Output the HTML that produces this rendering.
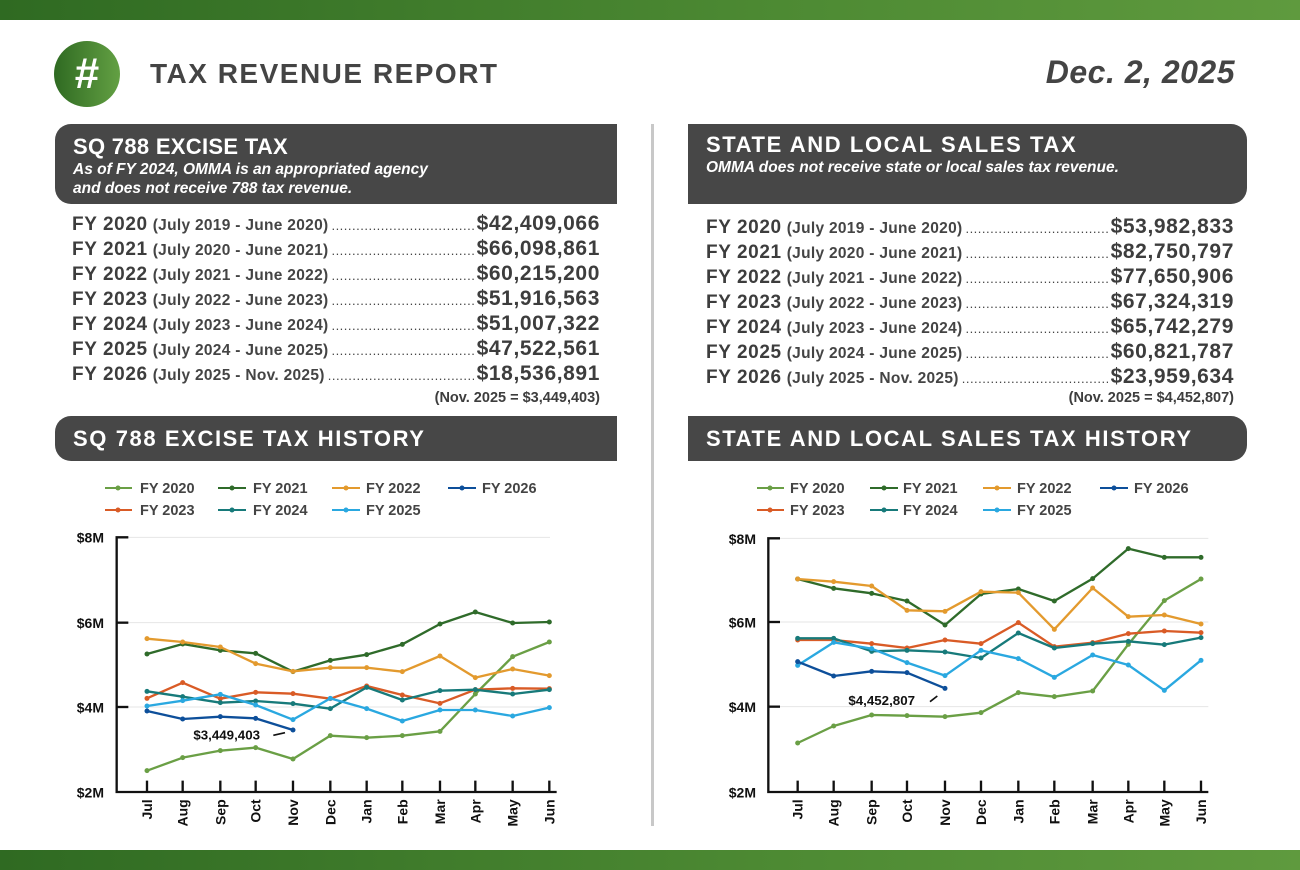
<!DOCTYPE html>
<html><head><meta charset="utf-8"><style>
*{margin:0;padding:0;box-sizing:border-box}
body{width:1300px;height:870px;background:#fff;position:relative;overflow:hidden;font-family:"Liberation Sans",sans-serif;color:#3d3d3d}
.bar{position:absolute;left:0;width:1300px;height:20px;background:linear-gradient(90deg,#2f6a22,#4d8a33 60%,#5f9a3e)}
.abs{position:absolute}
.box{position:absolute;background:#474747;color:#fff}
.box h2{font-size:22px;font-weight:bold;letter-spacing:0.3px}
.box h2.w{letter-spacing:1.6px}
.box p{font-size:15.5px;font-style:italic;font-weight:bold;line-height:19px}
.row{position:absolute;display:flex;align-items:baseline;white-space:nowrap;overflow:hidden}
.row b{font-size:19px;letter-spacing:0.6px}
.row .s{font-size:15.5px;font-weight:bold;margin-left:5px;color:#444;letter-spacing:0.3px}
.row .d{flex:1;overflow:hidden;font-size:13px;color:#444;margin:0 3px;letter-spacing:0.5px}
.row .a{font-size:21px;font-weight:bold;letter-spacing:0.6px}
.note{position:absolute;font-size:14.5px;font-weight:bold;text-align:right}
svg text{font-family:"Liberation Sans",sans-serif;font-weight:bold}
</style></head><body>
<div class="bar" style="top:0"></div>
<div class="bar" style="top:850px"></div>
<div class="abs" style="left:54px;top:41px;width:66px;height:66px;border-radius:50%;background:linear-gradient(90deg,#2f6a22,#63a043);color:#fff;font-size:44px;font-weight:bold;text-align:center;line-height:66px">#</div>
<div class="abs" style="left:150px;top:58px;font-size:28px;font-weight:bold;letter-spacing:1.5px;color:#444">TAX REVENUE REPORT</div>
<div class="abs" style="right:65px;top:54px;font-size:32px;font-weight:bold;font-style:italic;color:#444;letter-spacing:0.5px">Dec. 2, 2025</div>
<div class="abs" style="left:651px;top:124px;width:3px;height:702px;background:#c8c8c8"></div>

<div class="box" style="left:55px;top:124px;width:562px;height:80px;border-radius:16px 0 0 16px;padding:10px 0 0 18px"><h2>SQ 788 EXCISE TAX</h2><p>As of FY 2024, OMMA is an appropriated agency<br>and does not receive 788 tax revenue.</p></div>
<div class="box" style="left:688px;top:124px;width:559px;height:80px;border-radius:0 16px 16px 0;padding:8px 0 0 18px"><h2 class="w">STATE AND LOCAL SALES TAX</h2><p>OMMA does not receive state or local sales tax revenue.</p></div>

<div class="row" style="left:72px;top:212px;width:528px"><b>FY 2020</b><span class="s">(July 2019 - June 2020)</span><span class="d">..........................................................</span><span class="a">$42,409,066</span></div>
<div class="row" style="left:72px;top:237px;width:528px"><b>FY 2021</b><span class="s">(July 2020 - June 2021)</span><span class="d">..........................................................</span><span class="a">$66,098,861</span></div>
<div class="row" style="left:72px;top:262px;width:528px"><b>FY 2022</b><span class="s">(July 2021 - June 2022)</span><span class="d">..........................................................</span><span class="a">$60,215,200</span></div>
<div class="row" style="left:72px;top:287px;width:528px"><b>FY 2023</b><span class="s">(July 2022 - June 2023)</span><span class="d">..........................................................</span><span class="a">$51,916,563</span></div>
<div class="row" style="left:72px;top:312px;width:528px"><b>FY 2024</b><span class="s">(July 2023 - June 2024)</span><span class="d">..........................................................</span><span class="a">$51,007,322</span></div>
<div class="row" style="left:72px;top:337px;width:528px"><b>FY 2025</b><span class="s">(July 2024 - June 2025)</span><span class="d">..........................................................</span><span class="a">$47,522,561</span></div>
<div class="row" style="left:72px;top:362px;width:528px"><b>FY 2026</b><span class="s">(July 2025 - Nov. 2025)</span><span class="d">..........................................................</span><span class="a">$18,536,891</span></div>
<div class="note" style="left:300px;top:390px;width:300px">(Nov. 2025 = $3,449,403)</div>

<div class="row" style="left:706px;top:215px;width:528px"><b>FY 2020</b><span class="s">(July 2019 - June 2020)</span><span class="d">..........................................................</span><span class="a">$53,982,833</span></div>
<div class="row" style="left:706px;top:240px;width:528px"><b>FY 2021</b><span class="s">(July 2020 - June 2021)</span><span class="d">..........................................................</span><span class="a">$82,750,797</span></div>
<div class="row" style="left:706px;top:265px;width:528px"><b>FY 2022</b><span class="s">(July 2021 - June 2022)</span><span class="d">..........................................................</span><span class="a">$77,650,906</span></div>
<div class="row" style="left:706px;top:290px;width:528px"><b>FY 2023</b><span class="s">(July 2022 - June 2023)</span><span class="d">..........................................................</span><span class="a">$67,324,319</span></div>
<div class="row" style="left:706px;top:315px;width:528px"><b>FY 2024</b><span class="s">(July 2023 - June 2024)</span><span class="d">..........................................................</span><span class="a">$65,742,279</span></div>
<div class="row" style="left:706px;top:340px;width:528px"><b>FY 2025</b><span class="s">(July 2024 - June 2025)</span><span class="d">..........................................................</span><span class="a">$60,821,787</span></div>
<div class="row" style="left:706px;top:365px;width:528px"><b>FY 2026</b><span class="s">(July 2025 - Nov. 2025)</span><span class="d">..........................................................</span><span class="a">$23,959,634</span></div>
<div class="note" style="left:934px;top:390px;width:300px">(Nov. 2025 = $4,452,807)</div>

<div class="box" style="left:55px;top:416px;width:562px;height:45px;border-radius:16px 0 0 16px;padding:10px 0 0 18px"><h2 class="w">SQ 788 EXCISE TAX HISTORY</h2></div>
<div class="box" style="left:688px;top:416px;width:559px;height:45px;border-radius:0 16px 16px 0;padding:10px 0 0 18px"><h2 class="w">STATE AND LOCAL SALES TAX HISTORY</h2></div>

<svg class="abs" style="left:0;top:0" width="1300" height="870">
<defs>
<marker id="m1" markerUnits="userSpaceOnUse" markerWidth="20" markerHeight="20" refX="10" refY="10"><circle cx="10" cy="10" r="7.5" fill="#6a9f45"/></marker>
<marker id="m2" markerUnits="userSpaceOnUse" markerWidth="20" markerHeight="20" refX="10" refY="10"><circle cx="10" cy="10" r="7.5" fill="#2f6b2a"/></marker>
<marker id="m3" markerUnits="userSpaceOnUse" markerWidth="20" markerHeight="20" refX="10" refY="10"><circle cx="10" cy="10" r="7.5" fill="#e39a2e"/></marker>
<marker id="m4" markerUnits="userSpaceOnUse" markerWidth="20" markerHeight="20" refX="10" refY="10"><circle cx="10" cy="10" r="7.5" fill="#d95b26"/></marker>
<marker id="m5" markerUnits="userSpaceOnUse" markerWidth="20" markerHeight="20" refX="10" refY="10"><circle cx="10" cy="10" r="7.5" fill="#177a7a"/></marker>
<marker id="m6" markerUnits="userSpaceOnUse" markerWidth="20" markerHeight="20" refX="10" refY="10"><circle cx="10" cy="10" r="7.5" fill="#2aa8e0"/></marker>
<marker id="m7" markerUnits="userSpaceOnUse" markerWidth="20" markerHeight="20" refX="10" refY="10"><circle cx="10" cy="10" r="7.5" fill="#0d4f9a"/></marker>
</defs>
<g font-size="14.5" fill="#444">
<g stroke-width="2">
<line x1="105" y1="488" x2="132" y2="488" stroke="#6a9f45"/><circle cx="118" cy="488" r="2.5" fill="#6a9f45"/><text x="140" y="493">FY 2020</text>
<line x1="218" y1="488" x2="246" y2="488" stroke="#2f6b2a"/><circle cx="232" cy="488" r="2.5" fill="#2f6b2a"/><text x="253" y="493">FY 2021</text>
<line x1="332" y1="488" x2="360" y2="488" stroke="#e39a2e"/><circle cx="346" cy="488" r="2.5" fill="#e39a2e"/><text x="366" y="493">FY 2022</text>
<line x1="448" y1="488" x2="476" y2="488" stroke="#0d4f9a"/><circle cx="462" cy="488" r="2.5" fill="#0d4f9a"/><text x="482" y="493">FY 2026</text>
<line x1="105" y1="510" x2="132" y2="510" stroke="#d95b26"/><circle cx="118" cy="510" r="2.5" fill="#d95b26"/><text x="140" y="515">FY 2023</text>
<line x1="218" y1="510" x2="246" y2="510" stroke="#177a7a"/><circle cx="232" cy="510" r="2.5" fill="#177a7a"/><text x="253" y="515">FY 2024</text>
<line x1="332" y1="510" x2="360" y2="510" stroke="#2aa8e0"/><circle cx="346" cy="510" r="2.5" fill="#2aa8e0"/><text x="366" y="515">FY 2025</text>

<line x1="757" y1="488" x2="784" y2="488" stroke="#6a9f45"/><circle cx="770" cy="488" r="2.5" fill="#6a9f45"/><text x="790" y="493">FY 2020</text>
<line x1="870" y1="488" x2="898" y2="488" stroke="#2f6b2a"/><circle cx="884" cy="488" r="2.5" fill="#2f6b2a"/><text x="903" y="493">FY 2021</text>
<line x1="983" y1="488" x2="1011" y2="488" stroke="#e39a2e"/><circle cx="997" cy="488" r="2.5" fill="#e39a2e"/><text x="1017" y="493">FY 2022</text>
<line x1="1100" y1="488" x2="1128" y2="488" stroke="#0d4f9a"/><circle cx="1114" cy="488" r="2.5" fill="#0d4f9a"/><text x="1134" y="493">FY 2026</text>
<line x1="757" y1="510" x2="784" y2="510" stroke="#d95b26"/><circle cx="770" cy="510" r="2.5" fill="#d95b26"/><text x="790" y="515">FY 2023</text>
<line x1="870" y1="510" x2="898" y2="510" stroke="#177a7a"/><circle cx="884" cy="510" r="2.5" fill="#177a7a"/><text x="903" y="515">FY 2024</text>
<line x1="983" y1="510" x2="1011" y2="510" stroke="#2aa8e0"/><circle cx="997" cy="510" r="2.5" fill="#2aa8e0"/><text x="1017" y="515">FY 2025</text>
</g>
</g>

<g transform="translate(60,470) scale(0.33333)">
<g stroke="#e6e6e6" stroke-width="3"><line x1="170" y1="202" x2="1470" y2="202"/><line x1="170" y1="458" x2="1470" y2="458"/><line x1="170" y1="711" x2="1470" y2="711"/></g>
<g stroke="#111" stroke-width="7" fill="none">
<polyline points="205,202 170,202 170,966 1490,966"/>
<line x1="170" y1="458" x2="205" y2="458"/><line x1="170" y1="711" x2="205" y2="711"/>
<path d="M261 932V966M368 932V966M481 932V966M587 932V966M699 932V966M811 932V966M920 932V966M1027 932V966M1140 932V966M1246 932V966M1358 932V966M1468 932V966"/>
</g>
<g font-size="42" fill="#111" text-anchor="end"><text x="132" y="218">$8M</text><text x="132" y="474">$6M</text><text x="132" y="727">$4M</text><text x="132" y="982">$2M</text></g>
<g font-size="42" fill="#111" text-anchor="end">
<text transform="translate(276,988) rotate(-90)">Jul</text><text transform="translate(383,988) rotate(-90)">Aug</text><text transform="translate(496,988) rotate(-90)">Sep</text><text transform="translate(602,988) rotate(-90)">Oct</text><text transform="translate(714,988) rotate(-90)">Nov</text><text transform="translate(826,988) rotate(-90)">Dec</text><text transform="translate(935,988) rotate(-90)">Jan</text><text transform="translate(1042,988) rotate(-90)">Feb</text><text transform="translate(1155,988) rotate(-90)">Mar</text><text transform="translate(1261,988) rotate(-90)">Apr</text><text transform="translate(1373,988) rotate(-90)">May</text><text transform="translate(1483,988) rotate(-90)">Jun</text>
</g>
<g fill="none" stroke-width="7" stroke-linejoin="round">
<polyline stroke="#6a9f45" marker-start="url(#m1)" marker-mid="url(#m1)" marker-end="url(#m1)" points="261,902 368,863 481,842 587,833 699,867 811,797 920,803 1027,797 1140,784 1246,672 1358,560 1468,516"/>
<polyline stroke="#2f6b2a" marker-start="url(#m2)" marker-mid="url(#m2)" marker-end="url(#m2)" points="261,552 368,522 481,541 587,550 699,605 811,571 920,554 1027,523 1140,462 1246,426 1358,459 1468,456"/>
<polyline stroke="#e39a2e" marker-start="url(#m3)" marker-mid="url(#m3)" marker-end="url(#m3)" points="261,506 368,516 481,531 587,581 699,604 811,593 920,593 1027,605 1140,558 1246,623 1358,597 1468,617"/>
<polyline stroke="#d95b26" marker-start="url(#m4)" marker-mid="url(#m4)" marker-end="url(#m4)" points="261,685 368,638 481,686 587,667 699,671 811,686 920,648 1027,675 1140,700 1246,659 1358,655 1468,656"/>
<polyline stroke="#177a7a" marker-start="url(#m5)" marker-mid="url(#m5)" marker-end="url(#m5)" points="261,664 368,680 481,698 587,693 699,701 811,716 920,652 1027,690 1140,662 1246,659 1358,672 1468,659"/>
<polyline stroke="#2aa8e0" marker-start="url(#m6)" marker-mid="url(#m6)" marker-end="url(#m6)" points="261,708 368,692 481,673 587,705 699,749 811,685 920,716 1027,753 1140,720 1246,720 1358,738 1468,713"/>
<polyline stroke="#0d4f9a" marker-start="url(#m7)" marker-mid="url(#m7)" marker-end="url(#m7)" points="261,723 368,747 481,740 587,745 699,780"/>
</g>
<text x="400" y="808" font-size="40" fill="#111">$3,449,403</text>
<line x1="640" y1="796" x2="675" y2="788" stroke="#111" stroke-width="5"/>
</g>

<g transform="translate(700,470) scale(0.33333)">
<g stroke="#e6e6e6" stroke-width="3"><line x1="205" y1="205" x2="1525" y2="205"/><line x1="205" y1="456" x2="1525" y2="456"/><line x1="205" y1="710" x2="1525" y2="710"/></g>
<g stroke="#111" stroke-width="7" fill="none">
<polyline points="240,205 205,205 205,966 1525,966"/>
<line x1="205" y1="456" x2="240" y2="456"/><line x1="205" y1="710" x2="240" y2="710"/>
<path d="M293 932V966M401 932V966M515 932V966M621 932V966M735 932V966M843 932V966M955 932V966M1063 932V966M1178 932V966M1285 932V966M1393 932V966M1503 932V966"/>
</g>
<g font-size="42" fill="#111" text-anchor="end"><text x="168" y="222">$8M</text><text x="168" y="472">$6M</text><text x="168" y="726">$4M</text><text x="168" y="982">$2M</text></g>
<g font-size="42" fill="#111" text-anchor="end">
<text transform="translate(308,988) rotate(-90)">Jul</text><text transform="translate(416,988) rotate(-90)">Aug</text><text transform="translate(530,988) rotate(-90)">Sep</text><text transform="translate(636,988) rotate(-90)">Oct</text><text transform="translate(750,988) rotate(-90)">Nov</text><text transform="translate(858,988) rotate(-90)">Dec</text><text transform="translate(970,988) rotate(-90)">Jan</text><text transform="translate(1078,988) rotate(-90)">Feb</text><text transform="translate(1193,988) rotate(-90)">Mar</text><text transform="translate(1300,988) rotate(-90)">Apr</text><text transform="translate(1408,988) rotate(-90)">May</text><text transform="translate(1518,988) rotate(-90)">Jun</text>
</g>
<g fill="none" stroke-width="7" stroke-linejoin="round">
<polyline stroke="#6a9f45" marker-start="url(#m1)" marker-mid="url(#m1)" marker-end="url(#m1)" points="293,819 401,768 515,735 621,737 735,740 843,728 955,668 1063,680 1178,663 1285,523 1393,392 1503,327"/>
<polyline stroke="#2f6b2a" marker-start="url(#m2)" marker-mid="url(#m2)" marker-end="url(#m2)" points="293,327 401,355 515,370 621,393 735,465 843,372 955,357 1063,393 1178,326 1285,236 1393,262 1503,262"/>
<polyline stroke="#e39a2e" marker-start="url(#m3)" marker-mid="url(#m3)" marker-end="url(#m3)" points="293,327 401,335 515,348 621,421 735,424 843,365 955,368 1063,478 1178,354 1285,440 1393,435 1503,462"/>
<polyline stroke="#d95b26" marker-start="url(#m4)" marker-mid="url(#m4)" marker-end="url(#m4)" points="293,510 401,510 515,521 621,534 735,510 843,521 955,458 1063,530 1178,518 1285,491 1393,483 1503,488"/>
<polyline stroke="#177a7a" marker-start="url(#m5)" marker-mid="url(#m5)" marker-end="url(#m5)" points="293,505 401,505 515,544 621,541 735,546 843,564 955,489 1063,534 1178,521 1285,514 1393,524 1503,503"/>
<polyline stroke="#2aa8e0" marker-start="url(#m6)" marker-mid="url(#m6)" marker-end="url(#m6)" points="293,586 401,517 515,536 621,578 735,617 843,541 955,566 1063,622 1178,555 1285,585 1393,661 1503,571"/>
<polyline stroke="#0d4f9a" marker-start="url(#m7)" marker-mid="url(#m7)" marker-end="url(#m7)" points="293,575 401,618 515,604 621,608 735,655"/>
</g>
<text x="445" y="705" font-size="40" fill="#111">$4,452,807</text>
<line x1="690" y1="695" x2="712" y2="678" stroke="#111" stroke-width="5"/>
</g>
</svg>
</body></html>
